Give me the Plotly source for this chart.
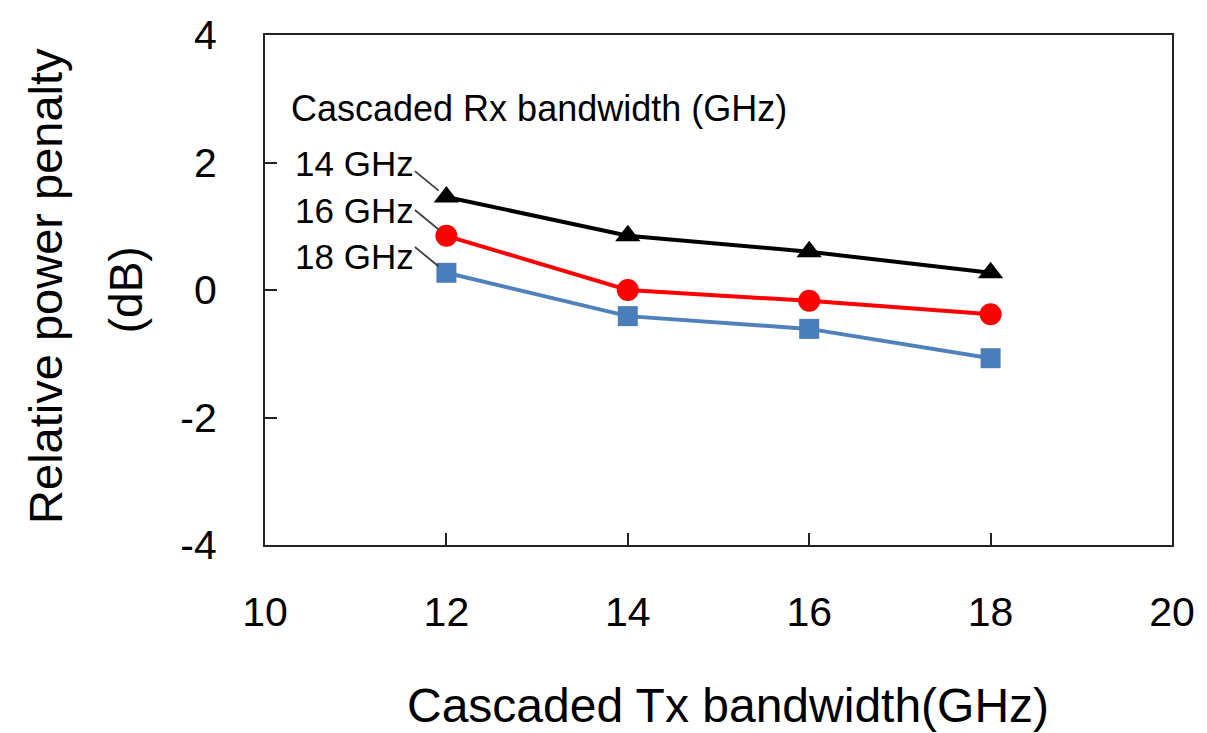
import plotly.graph_objects as go

tx_bw = [12, 14, 16, 18]
rx14 = [1.46, 0.85, 0.60, 0.27]
rx16 = [0.85, 0.00, -0.17, -0.38]
rx18 = [0.27, -0.41, -0.61, -1.07]
x_ticks = [10, 12, 14, 16, 18, 20]
y_ticks = [-4, -2, 0, 2, 4]

FONT = "Liberation Sans, Arial, sans-serif"

fig = go.Figure()
fig.add_trace(go.Scatter(x=tx_bw, y=rx14, mode="lines+markers", name="14 GHz",
                         line=dict(color="black", width=4),
                         marker=dict(symbol="triangle-up", size=22, color="black")))
fig.add_trace(go.Scatter(x=tx_bw, y=rx16, mode="lines+markers", name="16 GHz",
                         line=dict(color="#ff0000", width=4),
                         marker=dict(symbol="circle", size=22, color="#ff0000")))
fig.add_trace(go.Scatter(x=tx_bw, y=rx18, mode="lines+markers", name="18 GHz",
                         line=dict(color="#4f81bd", width=4),
                         marker=dict(symbol="square", size=20, color="#4a7ebb")))

# Labels and leader lines
fig.add_annotation(x=10.27, y=2.85, xref="x", yref="y", text="Cascaded Rx bandwidth (GHz)",
                   showarrow=False, xanchor="left", yanchor="middle",
                   font=dict(family=FONT, size=36, color="black"))
labels = ["14 GHz", "16 GHz", "18 GHz"]
label_y = [1.98, 1.24, 0.52]
first_vals = [rx14[0], rx16[0], rx18[0]]
for lab, ly, fv in zip(labels, label_y, first_vals):
    fig.add_annotation(x=10.31, y=ly, xref="x", yref="y", text=lab, showarrow=False,
                       xanchor="left", yanchor="middle",
                       font=dict(family=FONT, size=35, color="black"))
    fig.add_annotation(x=tx_bw[0], y=fv, xref="x", yref="y", text="", showarrow=True,
                       ax=-33, ay=-27, arrowhead=0, arrowwidth=1.8, arrowcolor="#404040",
                       standoff=10)

# Y axis title (two lines)
fig.add_annotation(xref="x domain", yref="y domain", x=(43 - 265) / 915, y=1 - (286 - 35) / 510,
                   xanchor="center", yanchor="middle",
                   text="Relative power penalty", showarrow=False, textangle=-90,
                   font=dict(family=FONT, size=47, color="black"))
fig.add_annotation(xref="x domain", yref="y domain", x=(125 - 265) / 915, y=1 - (290 - 35) / 510,
                   xanchor="center", yanchor="middle",
                   text="(dB)", showarrow=False, textangle=-90,
                   font=dict(family=FONT, size=46, color="black"))

# X axis title
fig.add_annotation(xref="x domain", yref="y domain", x=(732 - 265) / 915, y=(545 - 705) / 510,
                   xanchor="center", yanchor="middle",
                   text="Cascaded Tx bandwidth(GHz)", showarrow=False,
                   font=dict(family=FONT, size=48, color="black"))

fig.update_xaxes(range=[10, 20], tickvals=x_ticks, ticktext=[str(v) for v in x_ticks],
                 ticks="inside", ticklen=12, tickwidth=1.5, tickcolor="#222",
                 showline=True, linecolor="#222", linewidth=2, mirror=True,
                 showgrid=False, zeroline=False, ticklabelstandoff=30,
                 tickfont=dict(family=FONT, size=41, color="black"))
fig.update_yaxes(range=[-4, 4], tickvals=y_ticks, ticktext=[str(v) for v in y_ticks],
                 ticks="inside", ticklen=12, tickwidth=1.5, tickcolor="#222",
                 showline=True, linecolor="#222", linewidth=2, mirror=True,
                 showgrid=False, zeroline=False, ticklabelstandoff=38,
                 tickfont=dict(family=FONT, size=41, color="black"))

fig.update_layout(width=1207, height=733, margin=dict(l=265, r=27, t=35, b=188),
                  plot_bgcolor="white", paper_bgcolor="white", showlegend=False)

fig.write_html("out.html")
